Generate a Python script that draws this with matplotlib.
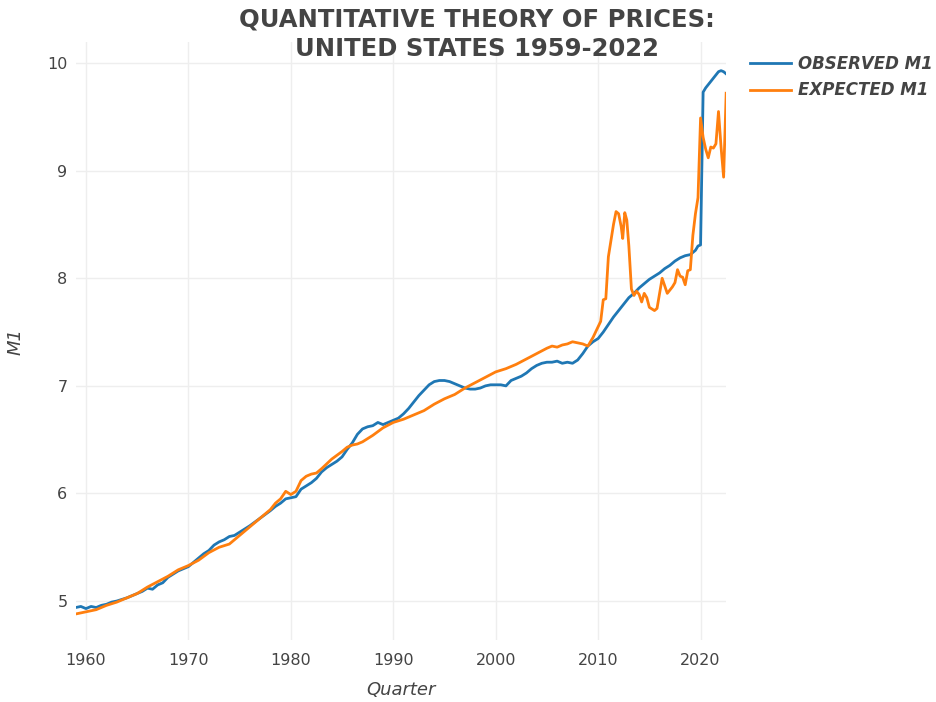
import matplotlib.pyplot as plt
from matplotlib.lines import Line2D

# observed M1
obs_years = [
    1959.0, 1959.5, 1960.0, 1960.5, 1961.0, 1961.5, 1962.0, 1962.5, 1963.0, 1964.0,
    1965.0, 1965.5, 1966.0, 1966.5, 1967.0, 1967.5, 1968.0, 1969.0, 1970.0, 1970.5,
    1971.0, 1971.5, 1972.0, 1972.5, 1973.0, 1973.5, 1974.0, 1974.5, 1975.0, 1975.5,
    1976.0, 1977.0, 1978.0, 1978.5, 1979.0, 1979.5, 1980.0, 1980.5, 1981.0, 1981.5,
    1982.0, 1982.5, 1983.0, 1983.5, 1984.0, 1984.5, 1985.0, 1985.5, 1986.0, 1986.5,
    1987.0, 1987.5, 1988.0, 1988.5, 1989.0, 1989.5, 1990.0, 1990.5, 1991.0, 1991.5,
    1992.0, 1992.5, 1993.0, 1993.5, 1994.0, 1994.5, 1995.0, 1995.5, 1996.0, 1996.5,
    1997.0, 1997.5, 1998.0, 1998.5, 1999.0, 1999.5, 2000.0, 2000.5, 2001.0, 2001.5,
    2002.0, 2002.5, 2003.0, 2003.5, 2004.0, 2004.5, 2005.0, 2005.5, 2006.0, 2006.5,
    2007.0, 2007.5, 2008.0, 2008.5, 2009.0, 2009.5, 2010.0, 2010.5, 2011.0, 2011.5,
    2012.0, 2012.5, 2013.0, 2013.5, 2014.0, 2014.5, 2015.0, 2015.5, 2016.0, 2016.5,
    2017.0, 2017.5, 2018.0, 2018.5, 2019.0, 2019.5, 2019.75, 2020.0, 2020.25, 2020.5,
    2020.75, 2021.0, 2021.25, 2021.5, 2021.75, 2022.0, 2022.25, 2022.5,
]
obs_m1 = [
    4.94, 4.95, 4.93, 4.95, 4.94, 4.96, 4.97, 4.99, 5.00, 5.03,
    5.07, 5.09, 5.12, 5.11, 5.15, 5.17, 5.22, 5.28, 5.32, 5.36,
    5.40, 5.44, 5.47, 5.52, 5.55, 5.57, 5.60, 5.61, 5.64, 5.67,
    5.70, 5.77, 5.84, 5.88, 5.91, 5.95, 5.96, 5.97, 6.04, 6.07,
    6.10, 6.14, 6.20, 6.24, 6.27, 6.30, 6.34, 6.41, 6.47, 6.55,
    6.60, 6.62, 6.63, 6.66, 6.64, 6.66, 6.68, 6.70, 6.74, 6.79,
    6.85, 6.91, 6.96, 7.01, 7.04, 7.05, 7.05, 7.04, 7.02, 7.00,
    6.98, 6.97, 6.97, 6.98, 7.00, 7.01, 7.01, 7.01, 7.00, 7.05,
    7.07, 7.09, 7.12, 7.16, 7.19, 7.21, 7.22, 7.22, 7.23, 7.21,
    7.22, 7.21, 7.24, 7.30, 7.37, 7.41, 7.44, 7.50, 7.57, 7.64,
    7.70, 7.76, 7.82, 7.86, 7.91, 7.95, 7.99, 8.02, 8.05, 8.09,
    8.12, 8.16, 8.19, 8.21, 8.22, 8.26, 8.30, 8.31, 9.73, 9.77,
    9.80, 9.83, 9.86, 9.89, 9.92, 9.93, 9.92, 9.90,
]

# expected M1
exp_years = [
    1959.0, 1960.0, 1961.0, 1962.0, 1963.0, 1964.0, 1965.0, 1966.0, 1967.0, 1968.0,
    1969.0, 1970.0, 1971.0, 1972.0, 1973.0, 1974.0, 1975.0, 1976.0, 1977.0, 1978.0,
    1978.5, 1979.0, 1979.5, 1980.0, 1980.5, 1981.0, 1981.5, 1982.0, 1982.5, 1983.0,
    1984.0, 1985.0, 1985.5, 1986.0, 1986.5, 1987.0, 1988.0, 1989.0, 1990.0, 1991.0,
    1992.0, 1993.0, 1994.0, 1995.0, 1996.0, 1997.0, 1998.0, 1999.0, 2000.0, 2001.0,
    2002.0, 2003.0, 2004.0, 2005.0, 2005.5, 2006.0, 2006.5, 2007.0, 2007.5, 2008.0,
    2008.5, 2009.0, 2009.5, 2010.0, 2010.25, 2010.5, 2010.75, 2011.0, 2011.25, 2011.5,
    2011.75, 2012.0, 2012.25, 2012.4, 2012.6, 2012.8, 2013.0, 2013.25, 2013.5, 2013.75,
    2014.0, 2014.25, 2014.5, 2014.75, 2015.0, 2015.5, 2015.75, 2016.25, 2016.75, 2017.25,
    2017.5, 2017.75, 2018.0, 2018.25, 2018.5, 2018.75, 2019.0, 2019.25, 2019.5, 2019.75,
    2020.0, 2020.25, 2020.5, 2020.75, 2021.0, 2021.25, 2021.5, 2021.75, 2022.0, 2022.25,
    2022.5,
]
exp_m1 = [
    4.88, 4.90, 4.92, 4.96, 4.99, 5.03, 5.07, 5.13, 5.18, 5.23,
    5.29, 5.33, 5.38, 5.45, 5.50, 5.53, 5.61, 5.69, 5.77, 5.85,
    5.91, 5.95, 6.02, 5.99, 6.02, 6.12, 6.16, 6.18, 6.19, 6.23,
    6.32, 6.39, 6.43, 6.45, 6.46, 6.48, 6.54, 6.61, 6.66, 6.69,
    6.73, 6.77, 6.83, 6.88, 6.92, 6.98, 7.03, 7.08, 7.13, 7.16,
    7.20, 7.25, 7.30, 7.35, 7.37, 7.36, 7.38, 7.39, 7.41, 7.40,
    7.39, 7.37, 7.45, 7.55, 7.60, 7.80, 7.81, 8.20, 8.35, 8.50,
    8.62, 8.60, 8.48, 8.37, 8.61, 8.54, 8.30, 7.90, 7.84, 7.88,
    7.85, 7.78, 7.86, 7.82, 7.73, 7.70, 7.72, 8.00, 7.86, 7.92,
    7.96, 8.08, 8.02, 8.01, 7.94, 8.07, 8.08, 8.40, 8.60, 8.75,
    9.49, 9.31, 9.20, 9.12, 9.22, 9.21, 9.25, 9.55, 9.22, 8.94,
    9.72,
]

x_ticks = [1960, 1970, 1980, 1990, 2000, 2010, 2020]
y_ticks = [5, 6, 7, 8, 9, 10]

text_color = "#444444"

fig = plt.figure(figsize=(9.37, 7.02), dpi=100)
ax = fig.add_axes([0.0808, 0.0883, 0.775 - 0.0808, 0.940 - 0.0883])

ax.plot(obs_years, obs_m1, color="#1f77b4", lw=2.0, label="OBSERVED M1")
ax.plot(exp_years, exp_m1, color="#ff7f0e", lw=2.0, label="EXPECTED M1")

ax.set_xlim(1959.0, 2022.5)
ax.set_ylim(4.638, 10.195)
ax.set_xticks(x_ticks)
ax.set_yticks(y_ticks)
ax.tick_params(length=0, labelsize=11.5, colors=text_color)
ax.tick_params(axis="x", pad=9)
ax.tick_params(axis="y", pad=6)
ax.grid(True, color="#eeeeee", lw=1)
ax.set_axisbelow(True)
for s in ax.spines.values():
    s.set_visible(False)

ax.set_xlabel("Quarter", fontsize=13, style="italic", color=text_color, labelpad=10)
ax.set_ylabel("M1", fontsize=13, style="italic", color=text_color, labelpad=16)

fig.text(0.509, 0.99, "QUANTITATIVE THEORY OF PRICES:\nUNITED STATES 1959-2022",
         ha="center", va="top", fontsize=17.5, fontweight="bold", color=text_color,
         linespacing=1.3)

handles = [
    Line2D([], [], color="#1f77b4", lw=2.0),
    Line2D([], [], color="#ff7f0e", lw=2.0),
]
fig.legend(handles, ["OBSERVED M1", "EXPECTED M1"], loc="upper left",
           bbox_to_anchor=(0.784, 0.943), frameon=False, handlelength=2.5,
           handletextpad=0.4, labelspacing=0.5,
           prop={"size": 12, "weight": "bold", "style": "italic"},
           labelcolor=text_color)

fig.savefig("out.png", dpi=100, facecolor="white")
